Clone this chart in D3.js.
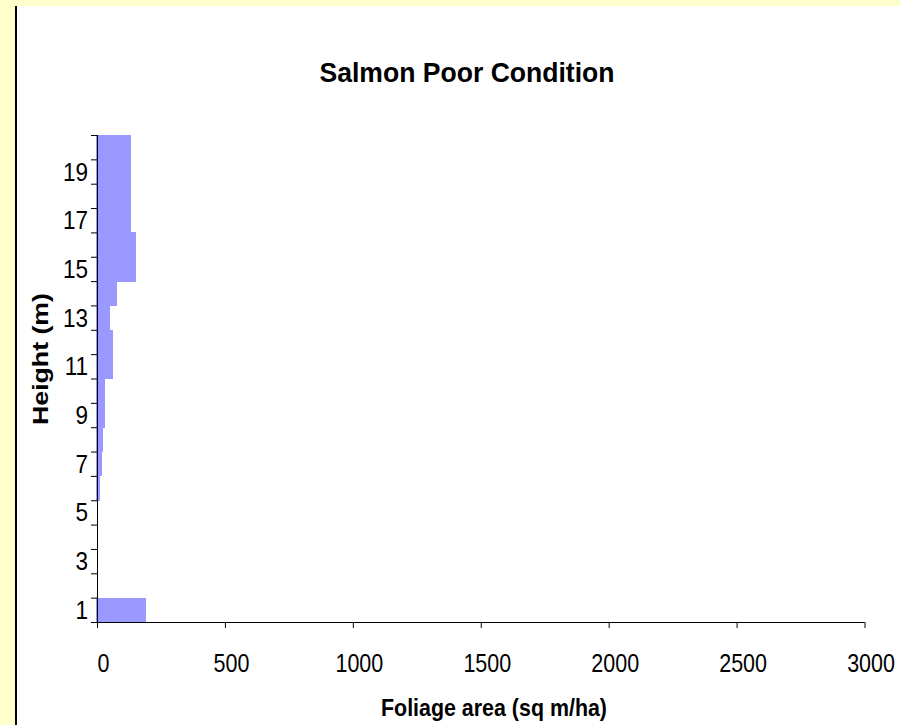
<!DOCTYPE html>
<html>
<head>
<meta charset="utf-8">
<script src="https://cdn.jsdelivr.net/npm/d3@7/dist/d3.min.js"></script>
<style>
  body { margin: 0; background: #ffffcc; }
  svg { display: block; }
  svg text { font-family: "Liberation Sans", Arial, sans-serif; }
</style>
</head>
<body>
<svg width="900" height="725"></svg>
<script>
// Height classes (m) and the foliage area
const heights = d3.range(1, 21);
const foliage = [190, 0, 0, 0, 0, 12, 20, 23, 31, 31, 63, 63, 51, 78, 151, 151, 133, 133, 133, 133];
const xTicks = [0, 500, 1000, 1500, 2000, 2500, 3000];
const yLabels = [1, 3, 5, 7, 9, 11, 13, 15, 17, 19];

const svg = d3.select('svg');
const font = '"Liberation Sans", Arial, sans-serif';

// yellow page with a white chart panel and a black rule on its left
svg.append('rect').attr('width', 900).attr('height', 725).attr('fill', '#ffffcc');
svg.append('rect').attr('x', 17).attr('y', 6).attr('width', 883).attr('height', 719).attr('fill', '#fff');
svg.append('rect').attr('x', 15).attr('y', 6).attr('width', 2).attr('height', 719).attr('fill', '#000');

// x runs over foliage area, y over height classes (1 at the bottom)
const x = d3.scaleLinear().domain([0, 3000]).range([97, 864.5]);
const yLin = d3.scaleLinear().domain([0, 20]).range([622, 135]);
const yBand = d3.scaleBand().domain(heights.slice().reverse()).range([135, 622]).padding(0);

const data = heights.map((h, i) => ({ h: h, v: foliage[i] }));

// bars, no gap between categories
svg.append('g')
  .attr('shape-rendering', 'crispEdges')
  .selectAll('rect')
  .data(data.filter(d => d.v > 0))
  .enter()
  .append('rect')
    .attr('x', x(0) - 1.5)
    .attr('y', d => yBand(d.h))
    .attr('width', d => x(d.v) - x(0) + 1.5)
    .attr('height', yBand.bandwidth() + 0.4)
    .attr('fill', '#9999ff');

// x axis
const xAxis = svg.append('g')
  .attr('transform', 'translate(0,622)')
  .attr('font-family', font)
  .call(d3.axisBottom(x).tickValues(xTicks).tickFormat(d3.format('d'))
    .tickSize(6).tickSizeOuter(0).tickPadding(26));
xAxis.select('.domain').attr('d', 'M91,0.5H864.5').attr('stroke', '#000');
xAxis.selectAll('.tick line').attr('stroke', '#000');
xAxis.selectAll('.tick text')
  .attr('font-size', 25)
  .attr('fill', '#000')
  .attr('x', 7)
  .attr('transform', 'scale(0.86,1)');

// y axis: tick marks sit on the category boundaries
const yAxis = svg.append('g')
  .attr('transform', 'translate(97,0)')
  .call(d3.axisLeft(yLin).tickValues(d3.range(0, 21)).tickFormat('').tickSize(6).tickSizeOuter(0));
yAxis.select('.domain').attr('d', 'M0.5,135V628').attr('stroke', '#000');
yAxis.selectAll('.tick line').attr('stroke', '#000');

// y labels on every other category, centred in the band
const yText = svg.append('g')
  .attr('transform', 'translate(88,0)')
  .attr('font-family', font)
  .call(d3.axisLeft(yBand).tickValues(yLabels).tickSize(0).tickPadding(0));
yText.select('.domain').remove();
yText.selectAll('.tick text')
  .attr('font-size', 25)
  .attr('fill', '#000')
  .attr('dy', '0.36em')
  .attr('transform', 'scale(0.9,1)');

// titles, horizontally squeezed like the original export
svg.append('text')
  .attr('x', 467).attr('y', 82)
  .attr('text-anchor', 'middle')
  .attr('font-size', 28).attr('font-weight', 'bold')
  .attr('textLength', 295).attr('lengthAdjust', 'spacingAndGlyphs')
  .text('Salmon Poor Condition');

svg.append('text')
  .attr('x', 494).attr('y', 716)
  .attr('text-anchor', 'middle')
  .attr('font-size', 24).attr('font-weight', 'bold')
  .attr('textLength', 226).attr('lengthAdjust', 'spacingAndGlyphs')
  .text('Foliage area (sq m/ha)');

svg.append('text')
  .attr('transform', 'translate(48,359) rotate(-90)')
  .attr('text-anchor', 'middle')
  .attr('font-size', 22).attr('font-weight', 'bold')
  .attr('textLength', 132).attr('lengthAdjust', 'spacingAndGlyphs')
  .text('Height (m)');
</script>
</body>
</html>
